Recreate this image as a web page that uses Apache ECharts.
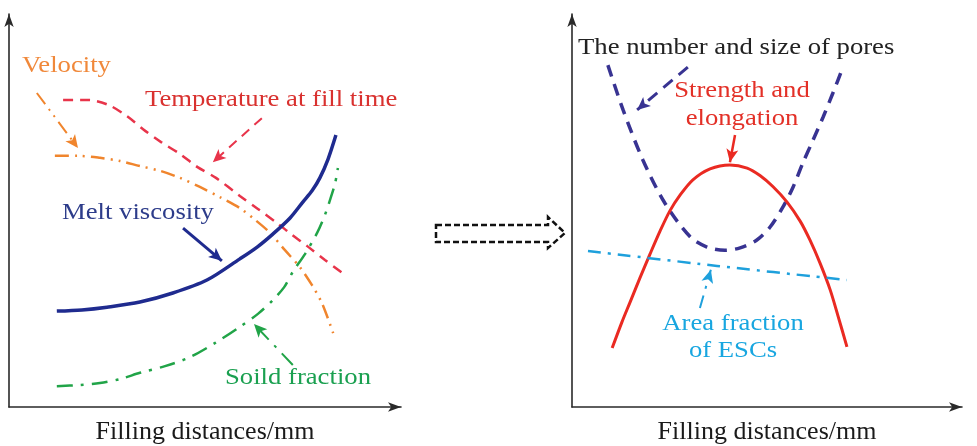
<!DOCTYPE html>
<html>
<head>
<meta charset="utf-8">
<script src="https://cdn.jsdelivr.net/npm/echarts@6/dist/echarts.min.js"></script>
<style>
html,body{margin:0;padding:0;background:#fff;}
#chart{width:977px;height:446px;}
</style>
</head>
<body>
<div id="chart"></div>
<script>
// ---- Left panel curves (x: filling distance 0-100, y: relative level 0-100) ----
const velocityData = [[11.7,63.9],[17.6,63.9],[23.2,63.4],[28.3,62.6],[33.4,61.3],[38.5,60.1],[43.6,58.3],[48.7,56.0],[53.8,53.4],[58.9,50.6],[62.8,47.6],[66.6,44.3],[70.4,39.9],[74.2,35.6],[77.3,31.0],[79.8,26.5],[82.7,18.8]];
const temperatureData = [[13.8,78.1],[20.4,78.1],[25.5,76.8],[30.1,74.0],[34.2,70.7],[38.8,67.4],[43.6,64.4],[48.0,61.1],[52.8,58.3],[58.9,53.7],[63.5,50.4],[68.4,46.8],[72.2,43.8],[76.0,41.0],[80.6,37.4],[85.7,33.6]];
const viscosityData = [[12.2,24.4],[18.6,24.7],[25.0,25.4],[33.4,26.7],[41.8,29.0],[50.5,32.3],[58.9,37.7],[63.3,40.7],[67.3,44.0],[71.7,48.1],[75.0,52.2],[77.3,55.0],[79.3,58.3],[81.4,63.1],[83.4,69.2]];
const solidFractionData = [[12.2,5.3],[18.1,5.6],[23.2,6.1],[28.3,7.1],[33.4,8.7],[39.8,10.4],[46.2,12.7],[52.6,16.3],[58.9,20.4],[63.5,23.7],[67.3,27.2],[70.2,30.5],[72.4,34.4],[75.5,38.9],[78.6,44.3],[80.6,48.9],[81.9,52.7],[83.2,57.0],[83.9,60.8]];

// ---- Right panel curves ----
const poresData = [[9.2,87.0],[13.1,75.6],[18.2,62.8],[23.8,51.9],[30.3,43.3],[34.6,40.7],[39.2,39.9],[43.1,40.5],[47.4,42.5],[50.8,45.8],[54.1,50.9],[56.7,56.0],[59.2,62.1],[61.8,67.9],[64.4,73.8],[66.9,79.9],[69.5,86.5]];
const strengthData = [[10.3,15.0],[12.8,21.6],[14.9,26.7],[17.4,32.8],[20.0,38.9],[22.6,44.8],[25.1,49.9],[27.7,53.9],[31.0,57.8],[35.4,60.6],[40.5,61.6],[44.9,60.8],[48.2,58.9],[51.5,56.1],[55.1,52.2],[58.5,47.3],[61.0,42.5],[63.6,36.6],[66.2,29.8],[68.2,23.2],[70.5,15.3]];
const escData = [[4.1,39.7],[37.2,35.9],[70.5,32.3]];

// ---- Pointer arrows (start, end) in data units ----
const velocityArrow = [[7.1,79.9],[17.6,65.9]];
const temperatureArrow = [[64.5,73.5],[52.0,62.3]];
const viscosityArrow = [[44.4,45.5],[54.3,37.2]];
const solidArrow = [[72.4,10.7],[62.5,21.1]];
const poresArrow = [[29.7,86.5],[16.7,75.6]];
const strengthArrow = [[41.8,69.2],[40.5,62.3]];
const escArrow = [[32.8,25.2],[35.6,34.9]];

// ---- Texts ----
const xAxisTitle = 'Filling distances/mm';
const labelVelocity = 'Velocity';
const labelTemperature = 'Temperature at fill time';
const labelViscosity = 'Melt viscosity';
const labelSolid = 'Soild fraction';
const labelPores = 'The number and size of pores';
const labelStrength = ['Strength and', 'elongation'];
const labelEsc = ['Area fraction', 'of ESCs'];

const FONT = '"Liberation Serif", "DejaVu Serif", serif';
const SX = 1.16;

function arrowLine(arrow, color, width, dash) {
  return {
    silent: true,
    animation: false,
    symbol: ['none', 'arrow'],
    symbolSize: [9, 13],
    label: {show: false},
    emphasis: {disabled: true},
    itemStyle: {color: color},
    lineStyle: {color: color, width: width, type: dash},
    data: [[{coord: arrow[0]}, {coord: arrow[1]}]]
  };
}

function curve(name, data, gi, color, width, dash, arrow) {
  return {
    name: name,
    type: 'line',
    xAxisIndex: gi,
    yAxisIndex: gi,
    data: data,
    smooth: 0.3,
    symbol: 'none',
    silent: true,
    lineStyle: {color: color, width: width, type: dash, cap: 'butt'},
    markLine: arrowLine(arrow, color, Math.max(2, width - 0.5), dash)
  };
}

function txt(text, x, y, color, align) {
  return {
    type: 'text',
    x: x, y: y,
    scaleX: SX,
    silent: true,
    style: {
      text: text,
      fill: color,
      font: '23px ' + FONT,
      align: align || 'left',
      verticalAlign: 'middle'
    }
  };
}

const axisLineStyle = {
  show: true,
  symbol: ['none', 'arrow'],
  symbolSize: [7, 13],
  lineStyle: {color: '#2a2a2a', width: 1.6}
};

function xAx(gi) {
  return {
    type: 'value', gridIndex: gi, min: 0, max: 100,
    axisLine: axisLineStyle,
    axisTick: {show: false}, axisLabel: {show: false}, splitLine: {show: false},
    name: xAxisTitle, nameLocation: 'middle', nameGap: 12,
    nameTextStyle: {fontFamily: FONT, fontSize: 26, color: '#1a1a1a'}
  };
}
function yAx(gi) {
  return {
    type: 'value', gridIndex: gi, min: 0, max: 100,
    axisLine: axisLineStyle,
    axisTick: {show: false}, axisLabel: {show: false}, splitLine: {show: false}
  };
}

const chart = echarts.init(document.getElementById('chart'), null, {renderer: 'canvas'});
chart.setOption({
  backgroundColor: '#ffffff',
  animation: false,
  grid: [
    {left: 9, top: 14, width: 392, height: 393, containLabel: false, outerBoundsMode: 'none'},
    {left: 572, top: 14, width: 390, height: 393, containLabel: false, outerBoundsMode: 'none'}
  ],
  xAxis: [xAx(0), xAx(1)],
  yAxis: [yAx(0), yAx(1)],
  series: [
    curve('Temperature at fill time', temperatureData, 0, '#e8344a', 2.5, [10, 7], temperatureArrow),
    curve('Velocity', velocityData, 0, '#f0852d', 2.5, [14, 6, 2, 6, 2, 6], velocityArrow),
    curve('Melt viscosity', viscosityData, 0, '#1f2b8f', 3.5, 'solid', viscosityArrow),
    curve('Soild fraction', solidFractionData, 0, '#21a448', 2.5, [16, 8, 3, 8], solidArrow),
    curve('The number and size of pores', poresData, 1, '#383392', 3.5, [12, 8], poresArrow),
    curve('Strength and elongation', strengthData, 1, '#ea2a22', 3, 'solid', strengthArrow),
    curve('Area fraction of ESCs', escData, 1, '#1ea0dc', 2.5, [13, 7, 3, 7], escArrow)
  ],
  graphic: [
    txt(labelVelocity, 22, 66, '#f0883a'),
    txt(labelTemperature, 145, 100, '#d9312f'),
    txt(labelViscosity, 62, 213, '#2d3c8a'),
    txt(labelSolid, 225, 378, '#1aa050'),
    txt(labelPores, 578, 48, '#222222'),
    txt(labelStrength[0], 742, 91, '#e33027', 'center'),
    txt(labelStrength[1], 742, 119, '#e33027', 'center'),
    txt(labelEsc[0], 733, 324, '#18a6e0', 'center'),
    txt(labelEsc[1], 733, 351, '#18a6e0', 'center'),
    {
      type: 'polygon',
      silent: true,
      shape: {points: [[436,225],[548,225],[548,217],[565,233],[548,248],[548,242],[436,242]]},
      style: {fill: 'none', stroke: '#111', lineWidth: 2.5, lineDash: [6, 3]}
    }
  ]
});
</script>
</body>
</html>
